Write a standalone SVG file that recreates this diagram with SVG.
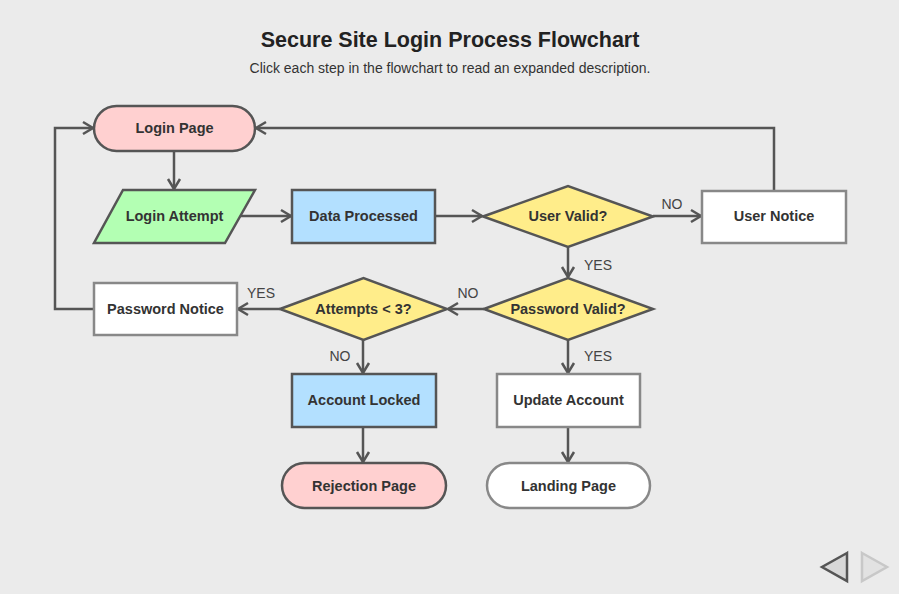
<svg xmlns="http://www.w3.org/2000/svg" width="899" height="594" viewBox="0 0 899 594">
<style>
text{font-family:"Liberation Sans",Arial,sans-serif}
.lbl{font-size:14.5px;font-weight:bold;fill:#333;text-anchor:middle}
.edge{font-size:14px;fill:#444;text-anchor:middle}
.dark{stroke:#555;stroke-width:2.5}
.light{stroke:#888;stroke-width:2.5}
.conn{fill:none;stroke:#555;stroke-width:2.5}
</style>
<defs>
<marker id="arr" markerUnits="userSpaceOnUse" markerWidth="14" markerHeight="16" viewBox="0 0 14 16" refX="12" refY="8" orient="auto">
<path d="M2,2 L12,8 L2,14" fill="none" stroke="#555" stroke-width="2.5"/>
</marker>
</defs>
<rect x="0" y="0" width="899" height="594" fill="#ebebeb"/>
<text x="450" y="47" style="font-size:21.5px;font-weight:bold;fill:#222" text-anchor="middle">Secure Site Login Process Flowchart</text>
<text x="450" y="73" style="font-size:14px;fill:#333" text-anchor="middle">Click each step in the flowchart to read an expanded description.</text>

<g id="connectors">
<path class="conn" d="M174,151 V189" marker-end="url(#arr)"/>
<path class="conn" d="M240,216 H291" marker-end="url(#arr)"/>
<path class="conn" d="M435,216 H482" marker-end="url(#arr)"/>
<path class="conn" d="M653,216 H701" marker-end="url(#arr)"/>
<path class="conn" d="M774,190 V128 H256" marker-end="url(#arr)"/>
<path class="conn" d="M568,247 V277" marker-end="url(#arr)"/>
<path class="conn" d="M484,309 H448" marker-end="url(#arr)"/>
<path class="conn" d="M280,309 H238" marker-end="url(#arr)"/>
<path class="conn" d="M94,309 H55 V128 H93" marker-end="url(#arr)"/>
<path class="conn" d="M363,340 V373" marker-end="url(#arr)"/>
<path class="conn" d="M568,340 V373" marker-end="url(#arr)"/>
<path class="conn" d="M363,427 V462" marker-end="url(#arr)"/>
<path class="conn" d="M568,427 V462" marker-end="url(#arr)"/>
<text class="edge" x="672" y="209">NO</text>
<text class="edge" x="598" y="270">YES</text>
<text class="edge" x="468" y="298">NO</text>
<text class="edge" x="261" y="298">YES</text>
<text class="edge" x="340" y="361">NO</text>
<text class="edge" x="598" y="361">YES</text>
</g>

<g id="login-page">
<rect class="dark" x="94" y="106" width="161" height="45" rx="22.5" fill="#ffd0d0"/>
<text class="lbl" x="174.5" y="133">Login Page</text>
</g>
<g id="login-attempt">
<polygon class="dark" points="123,190 255,190 225,243 94,243" fill="#b3ffb3"/>
<text class="lbl" x="174.5" y="221">Login Attempt</text>
</g>
<g id="data-processed">
<rect class="dark" x="292" y="190" width="143" height="53" fill="#b3e0ff"/>
<text class="lbl" x="363.5" y="221">Data Processed</text>
</g>
<g id="user-valid">
<polygon class="dark" points="483,216.5 568,186 653,216.5 568,247" fill="#ffed8a"/>
<text class="lbl" x="568" y="221">User Valid?</text>
</g>
<g id="user-notice">
<rect class="light" x="702" y="191" width="144" height="52" fill="#fff"/>
<text class="lbl" x="774" y="221">User Notice</text>
</g>
<g id="password-valid">
<polygon class="dark" points="484,309 568,278 653,309 568,340" fill="#ffed8a"/>
<text class="lbl" x="568" y="314">Password Valid?</text>
</g>
<g id="attempts">
<polygon class="dark" points="280,309 363.5,278 447,309 363.5,340" fill="#ffed8a"/>
<text class="lbl" x="363.5" y="314">Attempts &lt; 3?</text>
</g>
<g id="password-notice">
<rect class="light" x="94" y="283" width="143" height="52" fill="#fff"/>
<text class="lbl" x="165.5" y="314">Password Notice</text>
</g>
<g id="account-locked">
<rect class="dark" x="292" y="374" width="144" height="53" fill="#b3e0ff"/>
<text class="lbl" x="364" y="405">Account Locked</text>
</g>
<g id="update-account">
<rect class="light" x="497" y="374" width="143" height="53" fill="#fff"/>
<text class="lbl" x="568.5" y="405">Update Account</text>
</g>
<g id="rejection-page">
<rect class="dark" x="282" y="463" width="164" height="45" rx="22.5" fill="#ffd0d0"/>
<text class="lbl" x="364" y="491">Rejection Page</text>
</g>
<g id="landing-page">
<rect class="light" x="487" y="463" width="163" height="45" rx="22.5" fill="#fff"/>
<text class="lbl" x="568.5" y="491">Landing Page</text>
</g>

<g id="nav">
<polygon points="847,553 822,567 847,581" fill="#d8d8d8" stroke="#555" stroke-width="2.5" stroke-linejoin="miter"/>
<polygon points="862,553 887,567 862,581" fill="#e2e2e2" stroke="#c8c8c8" stroke-width="2.5"/>
</g>
</svg>
